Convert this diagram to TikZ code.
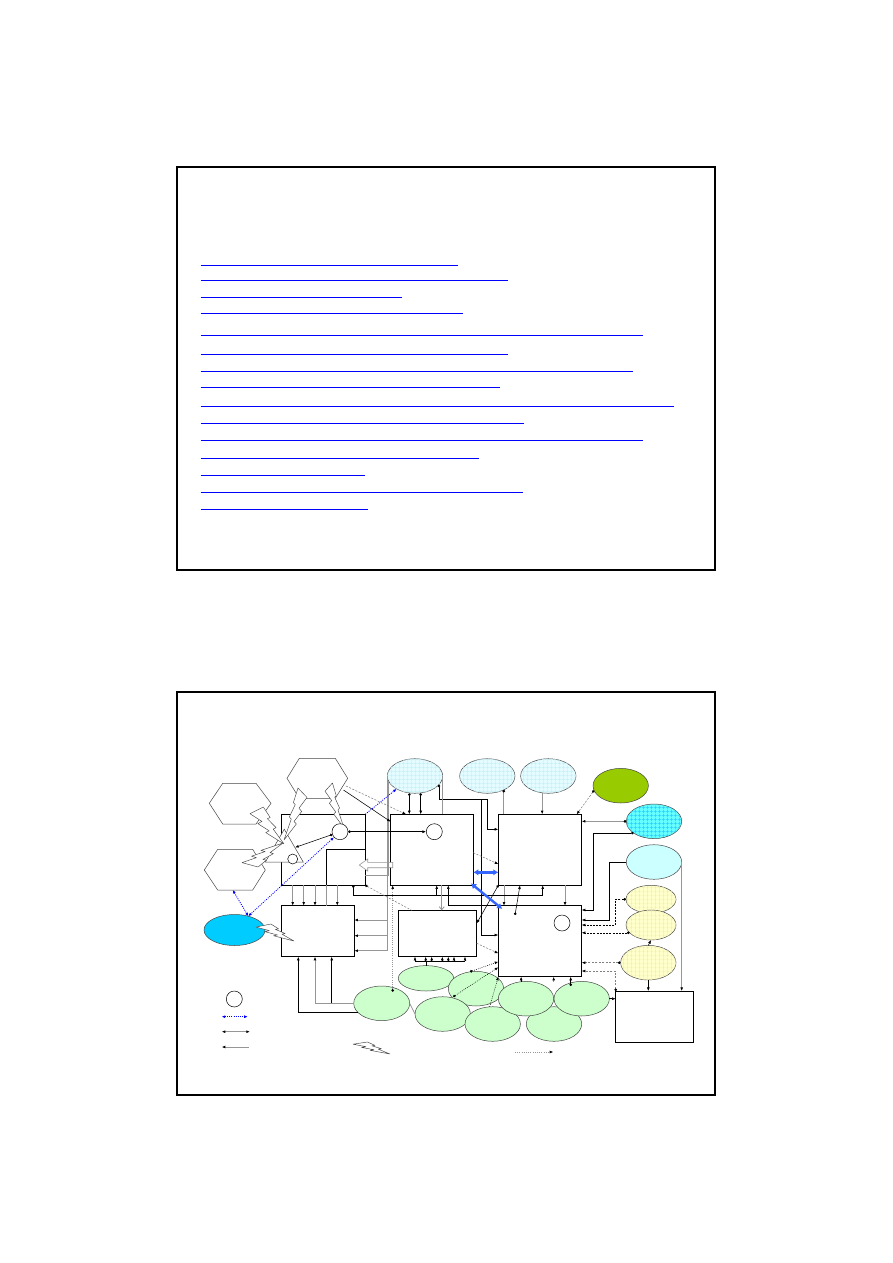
\documentclass[tikz,border=0pt]{standalone}
\usetikzlibrary{shapes.geometric,arrows.meta,patterns.meta,calc}
\definecolor{lgrey}{RGB}{150,150,150}
\definecolor{linkblue}{RGB}{0,0,255}
\definecolor{pcyan}{RGB}{228,252,255}
\definecolor{pcyangrid}{RGB}{198,238,246}
\definecolor{cyanfill}{RGB}{102,255,255}
\definecolor{cyangrid}{RGB}{40,200,255}
\definecolor{lcyan}{RGB}{204,255,255}
\definecolor{pyellow}{RGB}{255,255,204}
\definecolor{pyellowgrid}{RGB}{240,236,165}
\definecolor{pgreen}{RGB}{204,255,204}
\definecolor{olivefill}{RGB}{153,204,0}
\definecolor{skyfill}{RGB}{0,204,255}
\definecolor{arrblue}{RGB}{51,102,255}
\definecolor{edgegrey}{RGB}{70,70,70}
\begin{document}
\begin{tikzpicture}[x=1pt,y=-1pt,
 panel/.style={draw=black,line width=1.4pt,inner sep=0pt,outer sep=0pt,minimum width=538pt,minimum height=403pt},
 link/.style={draw=linkblue,line width=0.9pt},
 box/.style={draw=black,line width=0.8pt,fill=white,inner sep=0pt,outer sep=0pt},
 ell/.style={ellipse,draw=edgegrey,line width=0.5pt,inner sep=0pt,outer sep=0pt},
 gridfill/.style 2 args={fill=#1,postaction={pattern={Hatch[distance=4pt,angle=0,line width=0.35pt]},pattern color=#2}},
 circ/.style={circle,draw=black,line width=0.5pt,fill=white,minimum size=16pt,inner sep=0pt},
 hexa/.style={draw=edgegrey,line width=0.5pt,fill=white},
 boltline/.style={draw=edgegrey,line width=0.45pt,fill=white,line join=round},
 blk/.style={draw=black,line width=0.55pt},
 gry/.style={draw=lgrey,line width=0.8pt},
 gdash/.style={draw=gray,line width=0.55pt,dash pattern=on 2pt off 1.5pt},
 kdash/.style={draw=black,line width=0.55pt,dash pattern=on 2pt off 1.2pt},
 kdot/.style={draw=black,line width=0.55pt,dash pattern=on 0.8pt off 1.2pt},
 gdot/.style={draw=lgrey,line width=0.6pt,dash pattern=on 1pt off 1.2pt},
 bdot/.style={draw=blue,line width=0.8pt,dash pattern=on 1pt off 1.2pt,{Latex[length=3.5pt,width=3pt]}-{Latex[length=3.5pt,width=3pt]}},
 ar/.style={-{Latex[length=3.6pt,width=2.8pt,color=black]}},
 dar/.style={{Circle[length=2.6pt,color=black]}-{Latex[length=3.6pt,width=2.8pt,color=black]}},
 dotst/.style={{Circle[length=2.6pt,color=black]}-},
 barr/.style={draw=arrblue,line width=2.4pt,{Latex[length=5pt,width=6.5pt]}-{Latex[length=5pt,width=6.5pt]}},
 bolt/.pic={\draw[boltline] (0.3916,0) -- (0,0.1816) -- (0.3502,0.3896) -- (0.2312,0.45) -- (0.5647,0.6437) -- (0.4624,0.6914) -- (1,1) -- (0.6837,0.5977) -- (0.7666,0.5563) -- (0.5106,0.3167) -- (0.594,0.2833) -- cycle;}
]
\fill[white] (0,0) rectangle (893,1263);
\useasboundingbox (0,0) rectangle (893,1263);

% ---------- top panel ----------
\node[panel] (toppanel) at (446,368.5) {};
\foreach \yy/\xe in {265/458.3,280/508,297/402,313.7/463,335.3/643,354.3/508,371.3/632.7,387.7/500,406/674,423.3/524,440.3/643,458/479,475.3/365.3,492/523,509.7/368.3}
  \draw[link] (200.5,\yy) -- (\xe,\yy);

% ---------- bottom panel ----------
\node[panel] (botpanel) at (446,893.5) {};

% ellipses
\node[ell,gridfill={pcyan}{pcyangrid},minimum width=55.4pt,minimum height=34.6pt] (E1) at (415,776) {};
\node[ell,gridfill={pcyan}{pcyangrid},minimum width=55.4pt,minimum height=34.6pt] (E2) at (487.3,776) {};
\node[ell,gridfill={pcyan}{pcyangrid},minimum width=55.4pt,minimum height=34.6pt] (E3) at (548.3,776) {};
\node[ell,fill=olivefill,minimum width=55.4pt,minimum height=34.6pt] (OL) at (620.7,785.7) {};
\node[ell,gridfill={cyanfill}{cyangrid},minimum width=55.4pt,minimum height=34.6pt] (CY) at (654,821.3) {};
\node[ell,fill=lcyan,minimum width=55.4pt,minimum height=34.6pt] (LC) at (654,862) {};
\node[ell,gridfill={pyellow}{pyellowgrid},minimum width=50pt,minimum height=28pt] (Y1) at (651,899.3) {};
\node[ell,gridfill={pyellow}{pyellowgrid},minimum width=50pt,minimum height=30pt] (Y2) at (651,925) {};
\node[ell,gridfill={pyellow}{pyellowgrid},minimum width=55.4pt,minimum height=34.6pt] (Y3) at (648.3,962.7) {};
\node[ell,fill=skyfill,minimum width=61pt,minimum height=31pt] (BL) at (234.5,930) {};
\node[ell,fill=pgreen,minimum width=55.4pt,minimum height=25.4pt] (G2) at (426,978.3) {};
\node[ell,fill=pgreen,minimum width=55.4pt,minimum height=34.6pt] (G3) at (476,988.7) {};
\node[ell,fill=pgreen,minimum width=56pt,minimum height=34.6pt] (G1) at (381.7,1003.3) {};
\node[ell,fill=pgreen,minimum width=55.4pt,minimum height=34.6pt] (G4) at (442.7,1014) {};
\node[ell,fill=pgreen,minimum width=55.4pt,minimum height=34.6pt] (G5) at (492.7,1024) {};
\node[ell,fill=pgreen,minimum width=55.4pt,minimum height=34.6pt] (G8) at (554,1024) {};
\node[ell,fill=pgreen,minimum width=55.4pt,minimum height=34.6pt] (G6) at (526,998.7) {};
\node[ell,fill=pgreen,minimum width=55.4pt,minimum height=34.6pt] (G7) at (581.7,998.7) {};

% boxes
\node[box,minimum width=84pt,minimum height=71pt] (A) at (323.3,849.8) {};
\node[box,minimum width=82.6pt,minimum height=71pt] (B) at (432,849.8) {};
\node[box,minimum width=83.4pt,minimum height=71pt] (C) at (540,849.8) {};
\node[box,minimum width=83.4pt,minimum height=71pt] (D) at (540,941.2) {};
\node[box,minimum width=72.6pt,minimum height=51pt] (E) at (318,931.2) {};
\node[box,minimum width=78pt,minimum height=46.4pt] (F) at (437.7,933.5) {};
\node[box,minimum width=77.6pt,minimum height=51.3pt] (G) at (654.5,1016.7) {};
\draw[blk] (A.east |- 0,849.3) -- (326.7,849.3) -- (A.south -| 326.7,0);

% hexagons
\draw[hexa] (209.3,803.3) -- (222.7,783.3) -- (256,783.3) -- (271,803.3) -- (256,824) -- (222.7,824) -- cycle;
\draw[hexa] (204.3,870) -- (217.7,849.3) -- (252.7,849.3) -- (265.3,870) -- (252.7,890) -- (217.7,890) -- cycle;
\draw[hexa] (287,778.3) -- (299.3,758.3) -- (335.3,758.3) -- (347.7,778.3) -- (335.3,798.3) -- (299.3,798.3) -- cycle;
\coordinate (HL2b) at (232.7,890);
\coordinate (HTr) at (343.5,790);
\coordinate (HTd) at (346,786);

% triangle
\node[regular polygon,regular polygon sides=3,draw=edgegrey,line width=0.5pt,fill=white,minimum size=44pt,inner sep=0pt] (T) at (284.3,851.2) {};

% lightning bolts
\pic[shift={(250,807)},xscale=34,yscale=37] {bolt};
\pic[shift={(242,867)},xscale=41,yscale=-24] {bolt};
\pic[shift={(307,788)},xscale=-23,yscale=52] {bolt};
\pic[shift={(325,783)},xscale=19,yscale=45] {bolt};
\pic[shift={(256,924)},xscale=38,yscale=17] {bolt};
\pic[shift={(353,1042)},xscale=37,yscale=12] {bolt};

% circles
\node[circ] (c1) at (340,831.7) {};
\node[circ,minimum size=10pt] (cT) at (292.7,859) {};
\node[circ] (c2) at (434.3,831.7) {};
\node[circ] (c3) at (562,923) {};
\node[circ] (lcirc) at (234.3,999) {};

% hollow arrow between A and B
\draw[draw=lgrey,fill=white,line width=0.6pt] (392.7,862.3) -- (367.7,862.3) -- (367.7,859) -- (359.3,865) -- (367.7,871) -- (367.7,867.7) -- (392.7,867.7) -- cycle;

% ---------- connectors ----------
\foreach \xx in {292.7,303.7,315,337.3} \draw[gry,ar] (A.south -| \xx,0) -- (E.north -| \xx,0);
\draw[gry] (A.south -| 326.7,0) -- (E.north -| 326.7,0);

\foreach \xx in {409.3,420.7} \draw[blk,dar] (E1.south -| \xx,0) -- (B.north -| \xx,0);
\draw[blk,dar] (E1.-20) |- (487.3,799.3) -- (487.3,829.3) -- (C.west |- 0,829.3);
\draw[blk,ar] (481.7,799.3) |- (D.west |- 0,935);
\draw[gry] (E1.east) -- (E1.east |- B.north);
\draw[gry,ar] (E1.west) |- (E.east |- 0,950.7);
\foreach \yy in {920,935.7} \draw[gry,ar] (E1.west |- 0,\yy) -- (E.east |- 0,\yy);
\draw[gry] (E1.190) |- (A.east |- 0,875);

\draw[gry,dotst] (E2.-40) -- (E2.-40 |- C.north);
\draw[gry,ar] (E3.-110) -- (E3.-110 |- C.north);
\draw[gdash,dar] (OL.190) -- (C.north -| 576.7,0);
\draw[gry,dar] (CY.west) -- (C.east |- CY.west);
\draw[blk,dar] (CY.210) -| (593.3,910) -- (D.east |- 0,910);
\draw[blk,ar] (LC.west) -| (609.3,920) -- (D.east |- 0,920);
\draw[kdash,dar] (Y1.west) -| (615.3,925) -- (D.east |- 0,925);
\draw[kdash,dar] (Y2.200) -- (D.east |- Y2.200);
\draw[gry,ar] (LC.east) -- (LC.east |- G.north);
\draw[blk,ar] (Y3.south) -- (Y3.south |- G.north);
\draw[blk,ar] (Y3.north) -- (Y2.south);
\draw[gdash,dar] (Y3.west) -- (D.east |- Y3.west);
\draw[gdash,dar] (G.north west) |- (D.east |- 0,971);
\draw[blk,ar] (G7.east) -- (G.west |- G7.east);

\draw[blk,ar] (G6.106) -- (D.south -| G6.106);
\coordinate (g6e) at ($(G6.east)+(0,-17)$);
\draw[gry,ar] (g6e) -- (D.south -| g6e);
\coordinate (g7d) at ($(G7.center)+(-11,-12.7)$);
\draw[blk,dar] (g7d) -- (D.south -| g7d);

\draw[gdash,ar] (F.east |- 0,943.3) -- (D.west |- 0,953.3);
\coordinate (g3d) at ($(G3.center)+(-6,-17)$);
\draw[kdot,dar] (g3d) -- (D.west |- 0,961.7);
\coordinate (g4d) at ($(G4.center)+(10.6,-17.3)$);
\draw[kdot,dar] (g4d) -- (D.west |- 0,967.3);
\draw[kdot,ar] (G5.100) -- (D.south west);

\draw[gry,ar] (C.south -| 504,0) -- (D.north -| 504,0);
\draw[gry,ar] (C.south -| 565,0) -- (D.north -| 565,0);
\coordinate (dd) at ($(D.north west)+(16.7,9.3)$);
\draw[blk,dar] (dd) -- (C.south -| 520,0);
\draw[blk,dar] (C.south west) -- (F.east |- 0,923.3);
\draw[gdash,ar] (B.east |- 0,852.7) -- (C.west |- 0,864);

\draw[blk,dar] (A.south -| 353.3,0) |- (542.7,895) -- (C.south -| 542.7,0);
\draw[blk,ar] (436.7,895) -- (B.south -| 436.7,0);
\draw[blk,ar] (D.north west) -- (448.3,905.7) -- (B.south -| 448.3,0);
\draw[gdash,dotst] (A.south east) -- (F.north -| 411.7,0);
\draw[gry,-{Straight Barb[length=3pt,width=5pt]}] (B.south -| 441.7,0) -- (F.north -| 441.7,0);
\coordinate (g1d) at ($(G1.center)+(11,-11.6)$);
\draw[gdot,dar] (g1d) -- (B.south -| 392.7,0);

\draw[barr] (B.east |- 0,872.3) -- (C.west |- 0,872.3);
\draw[barr,shorten <=-3pt,shorten >=-5pt] (B.south east) -- (D.north west);

\draw[blk,ar] (HTr) -- (B.west |- 0,821.7);
\draw[gdash,ar] (HTd) -- (B.north -| 406,0);

\draw[bdot] (HL2b) -- (BL.45);
\draw[bdot] (c1) -- (BL.45);
\draw[bdot,-{Latex[length=3.5pt,width=3pt]}] (A.north east) -- (E1.215);
\draw[blk,dar] (c1.200) -- (T);
\draw[blk,dar] (c1.east) -- (c2.west);

\coordinate (bus) at ($(F.south)+(0,4.3)$);
\draw[blk] (bus -| 415,0) -- (bus -| 465,0);
\foreach \xx in {415,425.7,431.7,442.3,448.3,454,465} \draw[blk,ar] (bus -| \xx,0) -- (F.south -| \xx,0);
\draw[blk] (G2.north) -- (G2.north |- bus);

\draw[blk,ar] (G1.200) -| (E.south -| 298.3,0);
\draw[gry,ar] (G1.west) -| (E.south -| 315,0);
\draw[blk,ar] (G1.west -| 331.7,0) -- (E.south -| 331.7,0);
\draw[gry] (G1.east) -- (G4.west);

% legend
\coordinate (la1) at (221.7,1016.7); \coordinate (la2) at (247.7,1016.7);
\draw[bdot] (la1) -- (la2);
\coordinate (lb1) at (221.7,1031.7); \coordinate (lb2) at (250,1031.7);
\draw[gry,{Latex[length=3.6pt,width=2.8pt,color=black]}-{Latex[length=3.6pt,width=2.8pt,color=black]}] (lb1) -- (lb2);
\coordinate (lk1) at (221.7,1047); \coordinate (lk2) at (248.7,1047);
\draw[gry,{Latex[length=3.6pt,width=2.8pt,color=black]}-] (lk1) -- (lk2);
\coordinate (ld1) at (515,1052); \coordinate (ld2) at (553.3,1052);
\draw[gdot,ar] (ld1) -- (ld2);
\end{tikzpicture}
\end{document}
